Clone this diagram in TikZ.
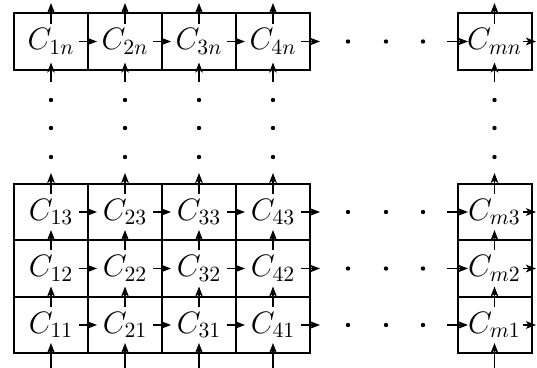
\documentclass[tikz,border=0pt]{standalone}
\usepackage{fix-cm}
\usetikzlibrary{arrows.meta}

\begin{document}
\begin{tikzpicture}[
    x=0.5pt, y=-0.5pt,
    every node/.style={font=\fontsize{15.5}{18}\selectfont},
    cell/.style={rectangle, draw, line width=1pt, minimum width=37pt, minimum height=28.25pt, inner sep=0pt},
    arr/.style={-{Stealth[length=5pt, width=3.8pt, inset=1.2pt]}, line width=0.8pt},
    harr/.style={arr, shorten <=14pt, shorten >=14pt},
    varr/.style={arr, shorten <=9pt, shorten >=9pt},
    dot/.style={circle, fill, inner sep=0pt, minimum size=2.2pt},
]
\useasboundingbox (0,0) rectangle (537,368);

% ============================================================ the cells
\foreach \i/\x in {1/51, 2/125, 3/199, 4/273, m/494.5}{
    \foreach \j/\y in {1/325, 2/268.5, 3/212, n/41.5}{
        \node[cell] (c\i\j) at (\x,\y) {$C_{\i\j}$};
    }
    % dots going up each column
    \foreach \k/\y in {1/100, 2/128, 3/157}{
        \node[dot] (vd\i\k) at (\x,\y) {};
    }
    % free ends above and below
    \coordinate (bot\i) at (\x,368);
    \coordinate (top\i) at (\x,173);
    \coordinate (botn\i) at (\x,82);
    \coordinate (topn\i) at (\x,3);
}

% ============================================================ dots along each row, free ends at the sides
\foreach \j/\y in {1/325, 2/268.5, 3/212, n/41.5}{
    \foreach \k/\x in {1/348, 2/386, 3/423}{
        \node[dot] (hd\j\k) at (\x,\y) {};
    }
    \coordinate (out4\j) at (320,\y);
    \coordinate (inm\j) at (447,\y);
    \coordinate (outm\j) at (536,\y);
}

% ============================================================ arrows to the right
\foreach \j in {1, 2, 3, n}{
    \foreach \a/\b in {1/2, 2/3, 3/4}{
        \draw[harr] (c\a\j.center) -- (c\b\j.center);
    }
    \draw[arr, shorten <=14pt] (c4\j.center) -- (out4\j);
    \draw[arr, shorten >=13.25pt] (inm\j) -- (cm\j.center);
    \draw[arr, shorten <=14pt] (cm\j.center) -- (outm\j);
}

% ============================================================ arrows upward
\foreach \i in {1, 2, 3, 4, m}{
    \draw[arr, shorten >=9pt] (bot\i) -- (c\i1.center);
    \draw[varr] (c\i1.center) -- (c\i2.center);
    \draw[varr] (c\i2.center) -- (c\i3.center);
    \draw[arr, shorten <=9pt] (c\i3.center) -- (top\i);
    \draw[arr, shorten >=10.5pt] (botn\i) -- (c\i n.center);
    \draw[arr, shorten <=8.5pt] (c\i n.center) -- (topn\i);
}

\end{tikzpicture}
\end{document}
